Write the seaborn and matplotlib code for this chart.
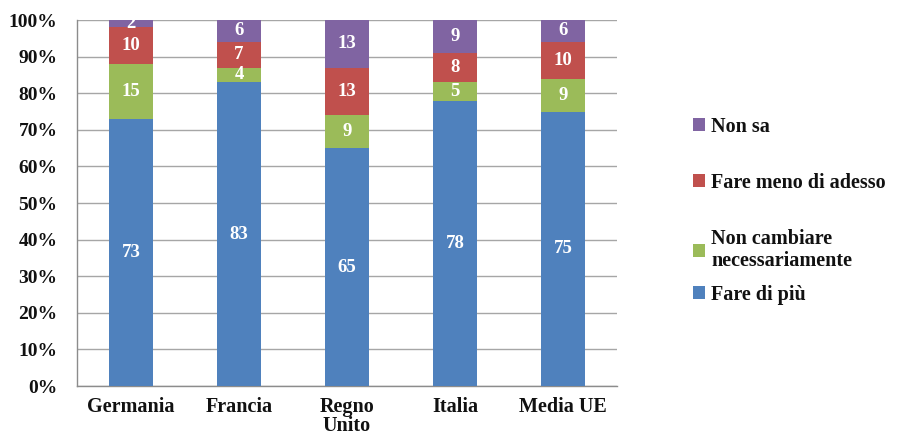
import numpy as np
import pandas as pd
import matplotlib
matplotlib.use("Agg")
import matplotlib.pyplot as plt
import seaborn as sns
from matplotlib.patches import Patch

countries = ["Germania", "Francia", "Regno\nUnito", "Italia", "Media UE"]
fare_di_piu = [73, 83, 65, 78, 75]
non_cambiare = [15, 4, 9, 5, 9]
fare_meno = [10, 7, 13, 8, 10]
non_sa = [2, 6, 13, 9, 6]

series_names = ["Fare di più", "Non cambiare\nnecessariamente",
                "Fare meno di adesso", "Non sa"]
series_values = [fare_di_piu, non_cambiare, fare_meno, non_sa]
series_colors = ["#4F81BD", "#9BBB59", "#C0504D", "#8064A2"]

sns.set_theme(style="white")
plt.rcParams["font.family"] = ["Liberation Serif", "DejaVu Serif"]
plt.rcParams["font.weight"] = "bold"

fig = plt.figure(figsize=(9.01, 4.37), dpi=100)
ax = fig.add_axes([0.0855, 0.1167, 0.5993, 0.8375])

# cumulative tops for each layer, drawn from the top layer down
vals = np.array(series_values, dtype=float)
tops = np.cumsum(vals, axis=0)
for i in range(len(series_names) - 1, -1, -1):
    df = pd.DataFrame({"paese": countries, "valore": tops[i]})
    sns.barplot(data=df, x="paese", y="valore", color=series_colors[i],
                width=0.4, saturation=1, linewidth=0, ax=ax, zorder=3)

# value labels in the middle of each segment
for i in range(len(series_names)):
    bottoms = tops[i] - vals[i]
    for j, v in enumerate(vals[i]):
        ax.text(j, bottoms[j] + v / 2, f"{int(v)}", ha="center", va="center",
                color="white", fontsize=13.5, fontweight="bold", zorder=5)

ax.set_ylim(0, 100)
ax.set_xlim(-0.5, len(countries) - 0.5)
ax.set_yticks(np.arange(0, 101, 10))
ax.set_yticklabels([f"{t}%" for t in range(0, 101, 10)])
ax.yaxis.grid(True, color="#A6A6A6", linewidth=1, zorder=0)
ax.set_axisbelow(True)
ax.set_xlabel("")
ax.set_ylabel("")

for s in ["top", "right"]:
    ax.spines[s].set_visible(False)
for s in ["left", "bottom"]:
    ax.spines[s].set_color("#8C8C8C")
    ax.spines[s].set_linewidth(1)

ax.set_xticks(np.arange(-0.5, len(countries), 1.0), minor=True)
ax.tick_params(axis="x", which="major", length=0, pad=8, labelsize=14.5)
ax.tick_params(axis="x", which="minor", length=5, color="#8C8C8C", direction="out")
ax.tick_params(axis="y", which="major", length=4, color="#8C8C8C",
               direction="out", labelsize=14, pad=10)
for lab in ax.get_xticklabels():
    lab.set_fontweight("bold")
    lab.set_color("#111111")
    lab.set_linespacing(0.95)
for lab in ax.get_yticklabels():
    lab.set_fontweight("bold")
    lab.set_color("#111111")

legend_font = {"family": "Liberation Serif", "weight": "bold", "size": 14.5}
handles = [Patch(facecolor=c, edgecolor="none") for c in series_colors]

# upper three entries
leg1 = fig.legend(handles[:0:-1], series_names[:0:-1], loc="upper left",
                  bbox_to_anchor=(0.769, 0.733), frameon=False, prop=legend_font,
                  handlelength=0.6, handleheight=0.6, handletextpad=0.3,
                  labelspacing=1.8, borderpad=0, borderaxespad=0)
for t in leg1.get_texts():
    t.set_linespacing(1.1)
    t.set_color("#111111")

# bottom entry
leg2 = fig.legend(handles[:1], series_names[:1], loc="upper left",
                  bbox_to_anchor=(0.769, 0.348), frameon=False, prop=legend_font,
                  handlelength=0.6, handleheight=0.6, handletextpad=0.3,
                  borderpad=0, borderaxespad=0)
for t in leg2.get_texts():
    t.set_color("#111111")

fig.savefig("out.png", dpi=100)
